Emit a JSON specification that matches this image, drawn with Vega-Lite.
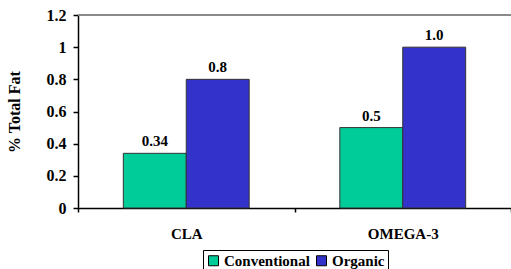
{
  "$schema": "https://vega.github.io/schema/vega-lite/v6.json",
  "width": 433,
  "height": 193,
  "autosize": "none",
  "padding": {"left": 78, "top": 15, "right": 0, "bottom": 61},
  "background": "white",
  "config": {
    "view": {"stroke": null},
    "font": "Liberation Serif",
    "axis": {"labelFont": "Liberation Serif", "titleFont": "Liberation Serif", "labelFontWeight": "bold", "titleFontWeight": "bold", "labelFontSize": 15, "titleFontSize": 16, "labelColor": "black", "titleColor": "black", "domainColor": "black", "tickColor": "black", "domainWidth": 1.5, "tickWidth": 1.5, "labelOverlap": false}
  },
  "data": {
    "values": [
      {"acid": "CLA", "type": "Conventional", "value": 0.34, "label": "0.34"},
      {"acid": "CLA", "type": "Organic", "value": 0.8, "label": "0.8"},
      {"acid": "OMEGA-3", "type": "Conventional", "value": 0.5, "label": "0.5"},
      {"acid": "OMEGA-3", "type": "Organic", "value": 1.0, "label": "1.0"}
    ]
  },
  "encoding": {
    "x": {
      "field": "acid", "type": "nominal", "title": null,
      "scale": {"paddingInner": 0, "paddingOuter": 0},
      "axis": {"labelAngle": 0, "tickBand": "extent", "tickSize": 4, "labelPadding": 14}
    },
    "y": {
      "field": "value", "type": "quantitative", "title": "% Total Fat",
      "scale": {"domain": [0, 1.2], "nice": false},
      "axis": {"values": [0, 0.2, 0.4, 0.6, 0.8, 1, 1.2], "format": "~g", "grid": false, "tickSize": 5, "labelPadding": 7, "labelFontSize": 16, "titlePadding": 24, "labelOverlap": false, "labelBound": false}
    }
  },
  "layer": [
    {
      "mark": {"type": "rule", "color": "#888888", "strokeWidth": 1.5},
      "encoding": {"x": null, "y": {"datum": 1.2}}
    },
    {
      "mark": {"type": "bar", "stroke": "#333333", "strokeWidth": 1},
      "encoding": {
        "xOffset": {"field": "type", "type": "nominal", "scale": {"paddingInner": 0, "paddingOuter": 0.72}},
        "color": {
          "field": "type", "type": "nominal",
          "scale": {"domain": ["Conventional", "Organic"], "range": ["#00CC99", "#3333CC"]},
          "legend": {
            "title": null, "orient": "none", "legendX": 125, "legendY": 235, "direction": "horizontal",
            "strokeColor": "black", "padding": 3, "symbolType": "square", "symbolSize": 100,
            "symbolStrokeColor": "black", "symbolStrokeWidth": 1, "symbolOpacity": 1,
            "labelFont": "Liberation Serif", "labelFontWeight": "bold", "labelFontSize": 15, "labelColor": "black",
            "columnPadding": 4, "labelOffset": 3
          }
        }
      }
    },
    {
      "mark": {"type": "text", "dy": -7, "baseline": "alphabetic", "font": "Liberation Serif", "fontWeight": "bold", "fontSize": 15, "color": "black"},
      "encoding": {
        "xOffset": {"field": "type", "type": "nominal", "scale": {"paddingInner": 0, "paddingOuter": 0.72}},
        "text": {"field": "label", "type": "nominal"}
      }
    }
  ]
}
